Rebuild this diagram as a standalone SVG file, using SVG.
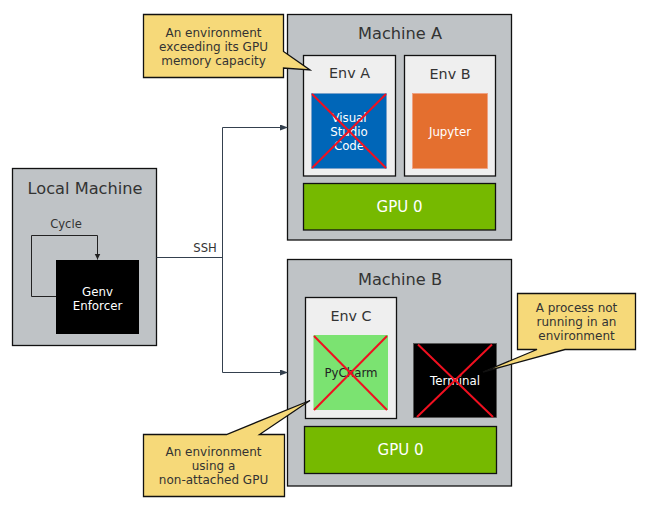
<svg xmlns="http://www.w3.org/2000/svg" width="646" height="507" viewBox="0 0 646 507">
<defs>
<marker id="arr" markerWidth="8" markerHeight="6" refX="7" refY="3" orient="auto" markerUnits="userSpaceOnUse">
<path d="M0,0 L8,3 L0,6 Z" fill="#34404e"/>
</marker>
<marker id="arrk" markerWidth="6" markerHeight="8" refX="6" refY="3" orient="auto" markerUnits="userSpaceOnUse">
<path d="M0,0 L6,3 L0,6 Z" fill="#222"/>
</marker>
</defs>
<style>
text{font-family:"DejaVu Sans","Open Sans","Liberation Sans",sans-serif;text-anchor:middle;dominant-baseline:central}
.mach{fill:#bfc3c6;stroke:#111;stroke-width:1.3}
.env{fill:#efefef;stroke:#111;stroke-width:1.3}
.gpu{fill:#76b900;stroke:#111;stroke-width:1.3}
.call{fill:#f6d979;stroke:#111;stroke-width:1.3}
.t1{font-size:16.2px;fill:#333}
.t2{font-size:14.3px;fill:#333}
.tw{font-size:11.8px;fill:#fff}
.tg{font-size:15px;fill:#fff}
.tc{font-size:12px;fill:#333}
.ts{font-size:11.6px;fill:#333}
.x{stroke:#f01020;stroke-width:2}
.conn{fill:none;stroke:#34404e;stroke-width:1}
</style>
<g id="local-machine">
<rect class="mach" x="12.5" y="168.5" width="144" height="177"/>
<text class="t1" x="85" y="188">Local Machine</text>
</g>
<g id="genv-enforcer">
<rect x="56" y="260" width="83" height="74" fill="#000"/>
<text class="tw" x="97.5" y="291.5">Genv</text>
<text class="tw" x="97.5" y="305.5">Enforcer</text>
</g>
<g id="machine-a">
<rect class="mach" x="287.5" y="14.5" width="224" height="225.5"/>
<text class="t1" x="400" y="33">Machine A</text>
</g>
<g id="env-a">
<rect class="env" x="303.5" y="55.5" width="92" height="120.5"/>
<text class="t2" x="349.5" y="73">Env A</text>
</g>
<g id="vscode">
<rect x="311.5" y="93.5" width="75" height="75" fill="#0066b8" stroke="#7aa0c8" stroke-width="0.8"/>
<text class="tw" x="349" y="117.5">Visual</text>
<text class="tw" x="349" y="131.5">Studio</text>
<text class="tw" x="349" y="145.5">Code</text>
<line class="x" x1="312" y1="94" x2="386" y2="168"/>
<line class="x" x1="386" y1="94" x2="312" y2="168"/>
</g>
<g id="env-b">
<rect class="env" x="404.5" y="55.5" width="91" height="120.5"/>
<text class="t2" x="450" y="73.5">Env B</text>
</g>
<g id="jupyter">
<rect x="412.5" y="93.5" width="75" height="75" fill="#e46f2f" stroke="#f0a080" stroke-width="0.8"/>
<text class="tw" x="450" y="131.5">Jupyter</text>
</g>
<g id="gpu0-a">
<rect class="gpu" x="303.5" y="183.5" width="192" height="46.5"/>
<text class="tg" x="399.5" y="207">GPU 0</text>
</g>
<g id="machine-b">
<rect class="mach" x="287.5" y="259.5" width="224" height="226.5"/>
<text class="t1" x="400" y="279">Machine B</text>
</g>
<g id="env-c">
<rect class="env" x="305.5" y="297.5" width="91" height="121"/>
<text class="t2" x="351" y="315.5">Env C</text>
</g>
<g id="pycharm">
<rect x="313.5" y="335" width="74.5" height="75" fill="#7be371"/>
<text font-size="11.8" fill="#222" x="351" y="372.5">PyCharm</text>
<line class="x" x1="314" y1="336" x2="387" y2="410"/>
<line class="x" x1="387" y1="336" x2="314" y2="410"/>
</g>
<g id="terminal">
<rect x="413.5" y="343.5" width="83" height="74" fill="#000" stroke="#555" stroke-width="0.8"/>
<text class="tw" x="455" y="381">Terminal</text>
<line class="x" x1="418" y1="344.5" x2="493" y2="417"/>
<line class="x" x1="492" y1="344.5" x2="417" y2="417"/>
</g>
<g id="gpu0-b">
<rect class="gpu" x="304.5" y="426.5" width="192" height="47"/>
<text class="tg" x="400.5" y="450">GPU 0</text>
</g>
<g id="callout-a">
<path class="call" d="M143.5,14.5 H283.5 V51.5 L310,70 L283.5,68 V77.5 H143.5 Z"/>
<text class="tc" x="213.5" y="33">An environment</text>
<text class="tc" x="213.5" y="47">exceeding its GPU</text>
<text class="tc" x="213.5" y="61">memory capacity</text>
</g>
<g id="callout-terminal">
<path class="call" d="M517.5,293.5 H635.5 V349.5 H565 L483,372 L537,349.5 H517.5 Z"/>
<text class="tc" x="576.5" y="308">A process not</text>
<text class="tc" x="576.5" y="322">running in an</text>
<text class="tc" x="576.5" y="336">environment</text>
</g>
<g id="callout-c">
<path class="call" d="M143.5,434.5 H226.5 L310,400.5 L259.5,434.5 H284.5 V496.5 H143.5 Z"/>
<text class="tc" x="213.5" y="452">An environment</text>
<text class="tc" x="213.5" y="466">using a</text>
<text class="tc" x="213.5" y="480">non-attached GPU</text>
</g>
<g id="connectors">
<path class="conn" d="M156.5,257.5 H222.5"/>
<path class="conn" d="M222.5,127.5 V372.5"/>
<path class="conn" d="M222.5,127.5 H287" marker-end="url(#arr)"/>
<path class="conn" d="M222.5,372.5 H287" marker-end="url(#arr)"/>
<path d="M56,296.5 H31.5 V235.5 H97.5 V259.5" fill="none" stroke="#222" stroke-width="1" marker-end="url(#arrk)"/>
<text class="ts" x="205" y="247.5">SSH</text>
<text class="ts" x="66" y="223.5">Cycle</text>
</g>
</svg>
